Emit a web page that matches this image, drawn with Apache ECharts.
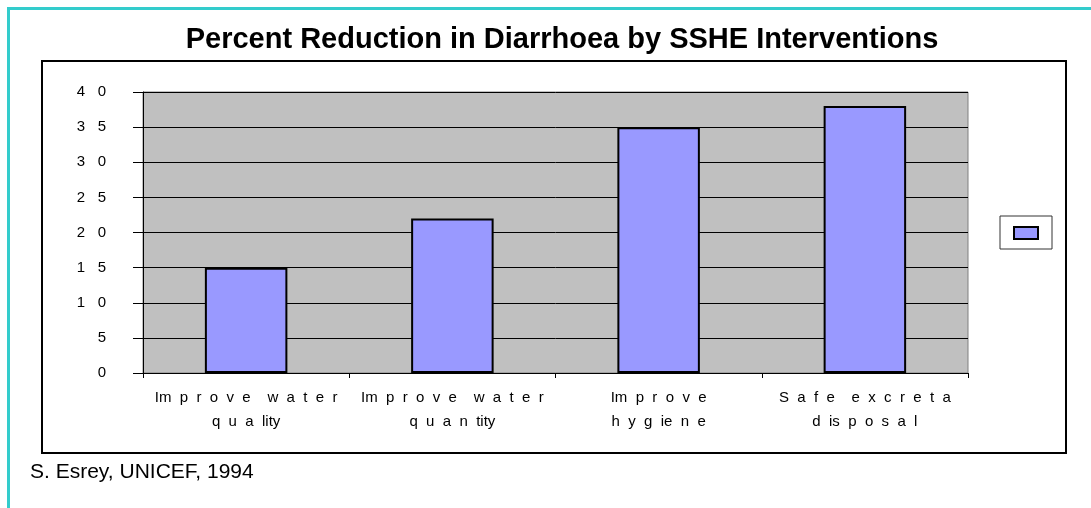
<!DOCTYPE html>
<html>
<head>
<meta charset="utf-8">
<script src="https://cdn.jsdelivr.net/npm/echarts@6/dist/echarts.min.js"></script>
<style>
html,body{margin:0;padding:0;background:#fff;}
#chart{width:1091px;height:508px;}
</style>
</head>
<body>
<div id="chart"></div>
<script>
const categories = [
  "Im  p  r  o  v  e    w  a  t  e  r\nq  u  a  lity",
  "Im  p  r  o  v  e    w  a  t  e  r\nq  u  a  n  tity",
  "Im  p  r  o  v  e\nh  y  g  ie  n  e",
  "S  a  f  e    e  x  c  r  e  t  a\nd  is  p  o  s  a  l"
];
const values = [15, 22, 35, 38];
const yTicks = { min: 0, max: 40, interval: 5 };
const titleText = "Percent Reduction in Diarrhoea by SSHE Interventions";
const sourceText = "S. Esrey, UNICEF, 1994";

const chart = echarts.init(document.getElementById('chart'), null, {renderer: 'canvas'});
chart.setOption({
  backgroundColor: '#ffffff',
  animation: false,
  title: {
    text: titleText,
    left: 557, top: 20, textAlign: 'center',
    textStyle: {fontFamily: 'Liberation Sans, Arial', fontSize: 29, fontWeight: 'bold', color: '#000'}
  },
  legend: {
    show: true,
    data: [{name: ' '}],
    left: 1000, top: 216,
    orient: 'vertical',
    backgroundColor: '#fff',
    borderColor: '#333',
    borderWidth: 1,
    padding: [10, 13, 9, 13],
    itemWidth: 24, itemHeight: 12, itemGap: 0,
    icon: 'rect',
    formatter: function(){ return ''; },
    textStyle: {fontSize: 1}
  },
  grid: {
    left: 143, right: 123, top: 92, bottom: 135,
    show: true, backgroundColor: '#C0C0C0', borderColor: '#808080', borderWidth: 1
  },
  xAxis: {
    type: 'category',
    data: categories,
    axisLine: {lineStyle: {color: '#000', width: 1}},
    axisTick: {show: true, length: 5, lineStyle: {color: '#000'}},
    axisLabel: {
      interval: 0, margin: 13, color: '#000',
      fontFamily: 'Liberation Sans, Arial', fontSize: 15, lineHeight: 24
    },
    splitLine: {show: false}
  },
  yAxis: {
    type: 'value',
    min: yTicks.min, max: yTicks.max, interval: yTicks.interval,
    axisLine: {show: true, lineStyle: {color: '#000', width: 1}},
    axisTick: {show: true, length: 10, lineStyle: {color: '#000'}},
    axisLabel: {
      margin: 37, color: '#000', fontFamily: 'Liberation Sans, Arial', fontSize: 15,
      formatter: function(v){ return String(v).split('').join('   '); }
    },
    splitLine: {show: true, lineStyle: {color: '#000', width: 1}}
  },
  series: [{
    name: ' ',
    type: 'bar',
    data: values,
    barWidth: '40%',
    itemStyle: {color: '#9999FF', borderColor: '#000', borderWidth: 2}
  }],
  graphic: [
    {type: 'rect', silent: true, z: -1,
     shape: {x: 42, y: 61, width: 1024, height: 392},
     style: {fill: 'none', stroke: '#000', lineWidth: 2}},
    {type: 'line', silent: true,
     shape: {x1: 7, y1: 8.5, x2: 1091, y2: 8.5},
     style: {stroke: '#33CCCC', lineWidth: 3}},
    {type: 'line', silent: true,
     shape: {x1: 8.5, y1: 7, x2: 8.5, y2: 508},
     style: {stroke: '#33CCCC', lineWidth: 3}},
    {type: 'text', silent: true, left: 30, top: 462,
     style: {text: sourceText, fill: '#000', font: '21px Liberation Sans, Arial'}}
  ]
});
</script>
</body>
</html>
